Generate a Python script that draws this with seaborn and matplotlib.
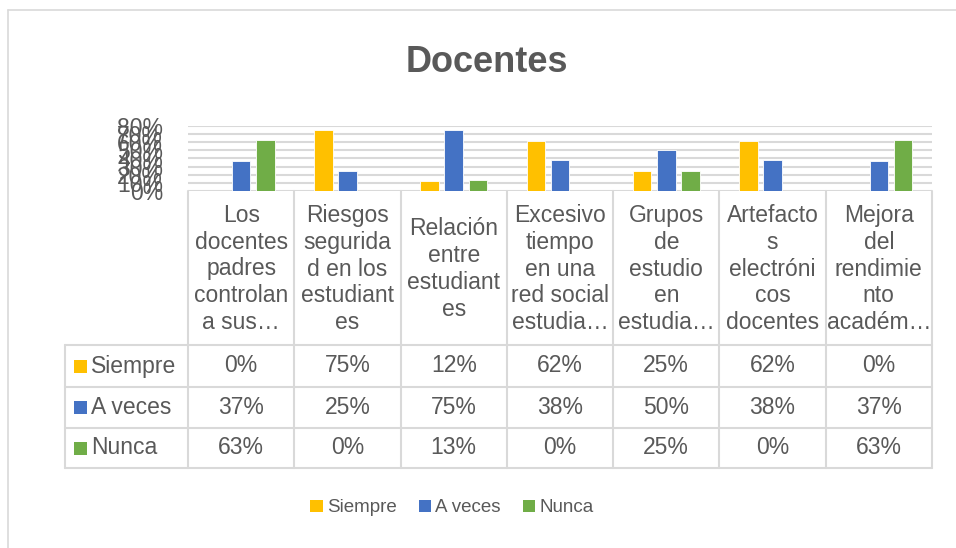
import matplotlib
matplotlib.use("Agg")
import matplotlib.pyplot as plt
import matplotlib.transforms as mtransforms
from matplotlib.lines import Line2D
from matplotlib.patches import Rectangle, Patch
from matplotlib.ticker import PercentFormatter
import seaborn as sns
import pandas as pd

# ---------------- data ----------------
title = "Docentes"
categories = [
    "Los docentes padres controlan a sus…",
    "Riesgos seguridad en los estudiantes",
    "Relación entre estudiantes",
    "Excesivo tiempo en una red social estudia…",
    "Grupos de estudio en estudia…",
    "Artefactos electrónicos docentes",
    "Mejora del rendimiento académ…",
]
header_labels = [
    "Los\ndocentes\npadres\ncontrolan\na sus…",
    "Riesgos\nsegurida\nd en los\nestudiant\nes",
    "Relación\nentre\nestudiant\nes",
    "Excesivo\ntiempo\nen una\nred social\nestudia…",
    "Grupos\nde\nestudio\nen\nestudia…",
    "Artefacto\ns\nelectróni\ncos\ndocentes",
    "Mejora\ndel\nrendimie\nnto\nacadém…",
]
series_names = ["Siempre", "A veces", "Nunca"]
siempre = [0, 75, 12, 62, 25, 62, 0]
a_veces = [37, 25, 75, 38, 50, 38, 37]
nunca = [63, 0, 13, 0, 25, 0, 63]
y_ticks = [0, 10, 20, 30, 40, 50, 60, 70, 80]
colors = ["#FFC000", "#4472C4", "#70AD47"]

# ---------------- style ----------------
sns.set_style("white")
plt.rcParams['font.family'] = ['Liberation Sans', 'DejaVu Sans']
TXT = "#595959"
LINE = "#d9d9d9"

W, H = 956, 548
fig = plt.figure(figsize=(W / 100, H / 100), dpi=100)


def fx(x):
    return x / W


def fy(y):
    return 1 - y / H


ax = fig.add_axes([fx(188), fy(191), fx(932) - fx(188), fy(126) - fy(191)])

df = pd.DataFrame({
    "cat": categories * 3,
    "serie": [s for s in series_names for _ in categories],
    "valor": siempre + a_veces + nunca,
})
sns.barplot(data=df, x="cat", y="valor", hue="serie", order=categories,
            hue_order=series_names, palette=colors, saturation=1,
            width=0.68, gap=0.23, edgecolor="white", linewidth=0.6, ax=ax)

if ax.get_legend() is not None:
    ax.get_legend().remove()

ax.set_ylim(0, 80)
ax.set_xlim(-0.5, len(categories) - 0.5)
ax.set_yticks(y_ticks)
ax.yaxis.set_major_formatter(PercentFormatter(100, decimals=0))
ax.set_xticks(range(len(categories)))
ax.set_xticklabels([""] * len(categories))
ax.set_xlabel("")
ax.set_ylabel("")
ax.tick_params(axis="y", length=0, pad=18, labelsize=16.5, labelcolor=TXT)
ax.tick_params(axis="x", length=0)
ax.yaxis.grid(True, color=LINE, linewidth=1.5)
ax.set_axisbelow(True)
for s in ax.spines.values():
    s.set_visible(False)

# title
fig.text(fx(487), fy(62), title, ha="center", va="center", fontsize=26,
         fontweight="bold", color=TXT)

# ---------------- data table ----------------
trans = mtransforms.blended_transform_factory(ax.transData, fig.transFigure)
for i, lab in enumerate(header_labels):
    ax.text(i, fy(269), lab, transform=trans, ha="center", va="center",
            fontsize=16.5, color=TXT, linespacing=1.22, clip_on=False)

row_centers = [366, 407.5, 448]
for r, vals in enumerate([siempre, a_veces, nunca]):
    for i, v in enumerate(vals):
        ax.text(i, fy(row_centers[r]), f"{v}%", transform=trans, ha="center",
                va="center", fontsize=16.5, color=TXT, clip_on=False)
    fig.add_artist(Rectangle((fx(74), fy(row_centers[r] + 6.5)), 12.5 / W, 13 / H,
                             transform=fig.transFigure, color=colors[r], lw=0))
    fig.text(fx(91), fy(row_centers[r]), series_names[r], ha="left", va="center",
             fontsize=16.5, color=TXT)

for yy in [345, 386.5, 427.5, 468]:
    fig.add_artist(Line2D([fx(65), fx(932)], [fy(yy), fy(yy)],
                          transform=fig.transFigure, color=LINE, lw=1.5))
for k in range(len(categories) + 1):
    xx = k - 0.5
    ax.add_line(Line2D([xx, xx], [fy(191), fy(468)], transform=trans,
                       color=LINE, lw=1.5, clip_on=False))
fig.add_artist(Line2D([fx(65), fx(65)], [fy(345), fy(468)],
                      transform=fig.transFigure, color=LINE, lw=1.5))

# chart border
fig.add_artist(Line2D([fx(8), 1], [fy(10), fy(10)], transform=fig.transFigure,
                      color=LINE, lw=1.2))
fig.add_artist(Line2D([fx(8), fx(8)], [fy(10), 0], transform=fig.transFigure,
                      color=LINE, lw=1.2))

# legend
handles = [Patch(facecolor=c, edgecolor="none") for c in colors]
fig.legend(handles, series_names, loc="center", bbox_to_anchor=(fx(452), fy(508)),
           ncol=3, frameon=False, fontsize=13.5, handlelength=0.65,
           handleheight=0.65, handletextpad=0.25, columnspacing=1.15,
           labelcolor=TXT)

fig.savefig("out.png", dpi=100)
